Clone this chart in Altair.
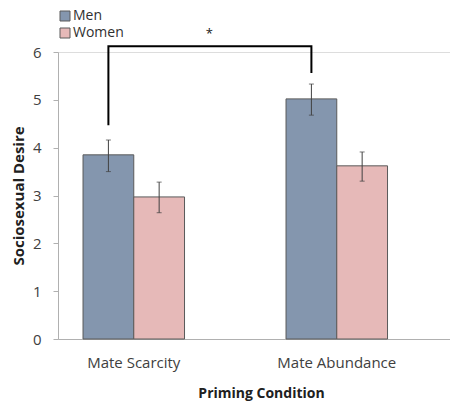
import altair as alt
import pandas as pd

conditions = ["Mate Scarcity", "Mate Abundance"]
sexes = ["Men", "Women"]
men_mean = [3.85, 5.02]
women_mean = [2.97, 3.62]
men_lo = [3.50, 4.68]
men_hi = [4.16, 5.33]
women_lo = [2.64, 3.30]
women_hi = [3.28, 3.91]

# significance bracket (y values in data units), anchored on the Men bars
bracket_cond = ["Mate Scarcity", "Mate Scarcity", "Mate Abundance", "Mate Abundance"]
bracket_y = [4.47, 6.12, 6.12, 5.56]
star_label = ["*"]

rows = []
for i, c in enumerate(conditions):
    rows.append(dict(cond=c, sex="Men", mean=men_mean[i], lo=men_lo[i], hi=men_hi[i]))
    rows.append(dict(cond=c, sex="Women", mean=women_mean[i], lo=women_lo[i], hi=women_hi[i]))
df = pd.DataFrame(rows)
br = pd.DataFrame({"cond": bracket_cond, "y": bracket_y, "o": list(range(len(bracket_y)))})
st = pd.DataFrame({"cond": ["Mate Scarcity"], "y": [6.12], "t": star_label})

FONT = "Open Sans"
xscale = alt.Scale(domain=conditions, paddingInner=0.5, paddingOuter=0.2155, align=0.286)
x = alt.X("cond:N", scale=xscale, sort=conditions,
          axis=alt.Axis(title="Priming Condition", labelAngle=0, ticks=False,
                        labelPadding=16, titlePadding=16, labelFontSize=15,
                        titleFontSize=14, titleFontWeight="bold",
                        domainColor="#B0B0B0", labelColor="#404040", titleColor="#202020",
                        titleX=203))
y = alt.Y("mean:Q", scale=alt.Scale(domain=[0, 6]),
          axis=alt.Axis(title="Sociosexual Desire", values=[0, 1, 2, 3, 4, 5, 6],
                        grid=False, tickSize=5, labelPadding=12, titlePadding=6,
                        labelFontSize=15, titleFontSize=15, titleFontWeight="bold",
                        domainColor="#B0B0B0", tickColor="#B0B0B0",
                        labelColor="#404040", titleColor="#202020"))
xo = alt.XOffset("sex:N", scale=alt.Scale(domain=sexes, paddingInner=0, paddingOuter=0))

bars = alt.Chart(df).mark_bar(stroke="#5A5A5A", strokeWidth=1).encode(
    x=x, y=y, xOffset=xo,
    color=alt.Color("sex:N", scale=alt.Scale(domain=sexes, range=["#8496AE", "#E6B9B8"]),
                    legend=alt.Legend(title=None, orient="none", legendX=0, legendY=-43,
                                      symbolType="square", symbolSize=100,
                                      symbolStrokeColor="#5A5A5A", symbolStrokeWidth=1,
                                      labelFontSize=14, labelColor="#303030",
                                      rowPadding=3, padding=0, symbolOpacity=1,
                                      labelOffset=1))
)
err = alt.Chart(df).mark_rule(color="#404040", strokeWidth=1).encode(
    x="cond:N", xOffset="sex:N", y="lo:Q", y2="hi:Q")
cap_lo = alt.Chart(df).mark_tick(color="#404040", thickness=1, size=5).encode(
    x="cond:N", xOffset="sex:N", y="lo:Q")
cap_hi = alt.Chart(df).mark_tick(color="#404040", thickness=1, size=5).encode(
    x="cond:N", xOffset="sex:N", y="hi:Q")
bracket = alt.Chart(br).mark_line(color="#000000", strokeWidth=2, clip=False).encode(
    x=alt.X("cond:N", bandPosition=0.25), y="y:Q", order="o:Q")
star = alt.Chart(st).mark_text(font=FONT, fontSize=13, color="#202020", dx=101, dy=-12,
                               clip=False).encode(
    x=alt.X("cond:N", bandPosition=0.25), y="y:Q", text="t:N")

chart = alt.layer(bars, err, cap_lo, cap_hi, bracket, star).properties(
    width=392, height=287,
    autosize=alt.AutoSizeParams(type="none"),
    padding={"left": 50, "top": 44, "right": 0, "bottom": 70},
).configure_view(stroke=None).configure(font=FONT)

chart.save("out.html", embed_options={"renderer": "svg", "actions": False})
